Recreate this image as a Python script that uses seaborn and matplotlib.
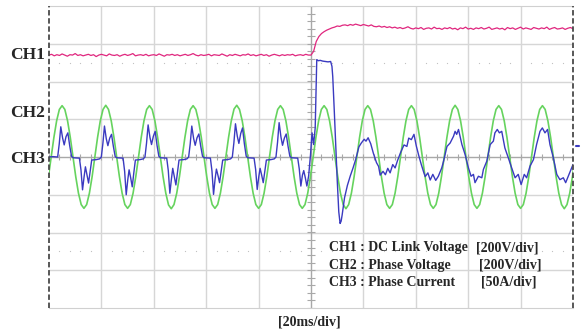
import numpy as np
import matplotlib
matplotlib.use("Agg")
import matplotlib.pyplot as plt
import seaborn as sns

# scope screen: 10 div x 20 ms/div, 8 div vertical; traces in divisions
ch1_dt = 1.0  # ms per sample
ch1_v = [
    2.70, 2.72, 2.68, 2.71, 2.69, 2.73, 2.70, 2.67, 2.71, 2.70,
    2.74, 2.69, 2.71, 2.68, 2.70, 2.72, 2.69, 2.71, 2.66, 2.70,
    2.72, 2.70, 2.68, 2.73, 2.70, 2.69, 2.71, 2.67, 2.70, 2.72,
    2.69, 2.71, 2.74, 2.68, 2.70, 2.71, 2.69, 2.72, 2.68, 2.70,
    2.71, 2.69, 2.73, 2.70, 2.67, 2.71, 2.70, 2.72, 2.69, 2.71,
    2.68, 2.70, 2.72, 2.69, 2.71, 2.74, 2.70, 2.68, 2.71, 2.69,
    2.70, 2.72, 2.68, 2.71, 2.70, 2.69, 2.73, 2.70, 2.67, 2.71,
    2.69, 2.72, 2.70, 2.68, 2.71, 2.70, 2.73, 2.69, 2.71, 2.68,
    2.70, 2.72, 2.69, 2.71, 2.67, 2.70, 2.72, 2.70, 2.68, 2.71,
    2.69, 2.71, 2.70, 2.72, 2.68, 2.70, 2.71, 2.69, 2.72, 2.70,
    2.70,
    2.80, 3.06, 3.19, 3.27, 3.32, 3.36, 3.39, 3.42, 3.44, 3.47,
    3.46, 3.49, 3.50, 3.48, 3.51, 3.49, 3.52, 3.50, 3.48, 3.51,
    3.49, 3.47, 3.50, 3.46, 3.45, 3.47, 3.44, 3.46, 3.43, 3.45,
    3.42, 3.44, 3.41, 3.43, 3.40, 3.42, 3.45, 3.41, 3.39, 3.42,
    3.40, 3.43, 3.38, 3.41, 3.42, 3.39, 3.44, 3.40, 3.41, 3.38,
    3.42, 3.40, 3.43, 3.39, 3.41, 3.37, 3.42, 3.40, 3.44, 3.39,
    3.41, 3.38, 3.42, 3.40, 3.43, 3.39, 3.41, 3.44, 3.38, 3.40,
    3.42, 3.39, 3.41, 3.37, 3.43, 3.40, 3.42, 3.38, 3.41, 3.44,
    3.39, 3.42, 3.40, 3.38, 3.43, 3.41, 3.39, 3.42, 3.40, 3.44,
    3.38, 3.41, 3.43, 3.39, 3.40, 3.42, 3.38, 3.41, 3.43, 3.40,
]

ch2_t0 = -0.21
ch2_dt = 1000 / 60 / 16  # 16 samples per 60 Hz cycle
ch2_v = [
    -0.52, 0.00, 0.52, 0.96, 1.26, 1.36, 1.26, 0.96, 0.52, 0.00, -0.52, -0.96, -1.26, -1.36, -1.26, -0.96,
    -0.52, 0.00, 0.52, 0.96, 1.26, 1.37, 1.26, 0.96, 0.52, 0.00, -0.52, -0.96, -1.26, -1.36, -1.26, -0.96,
    -0.52, 0.00, 0.52, 0.96, 1.26, 1.36, 1.26, 0.96, 0.52, 0.00, -0.52, -0.96, -1.27, -1.37, -1.26, -0.96,
    -0.52, 0.00, 0.52, 0.96, 1.26, 1.36, 1.26, 0.96, 0.52, 0.00, -0.52, -0.96, -1.26, -1.36, -1.26, -0.96,
    -0.52, 0.00, 0.52, 0.96, 1.27, 1.37, 1.26, 0.96, 0.52, 0.00, -0.52, -0.96, -1.26, -1.36, -1.26, -0.96,
    -0.52, 0.00, 0.52, 0.96, 1.26, 1.36, 1.26, 0.96, 0.52, 0.00, -0.52, -0.96, -1.26, -1.36, -1.26, -0.96,
    -0.52, 0.00, 0.52, 0.96, 1.26, 1.36, 1.26, 0.96, 0.52, 0.00, -0.52, -0.96, -1.26, -1.37, -1.26, -0.96,
    -0.52, 0.00, 0.52, 0.96, 1.26, 1.36, 1.26, 0.96, 0.52, 0.00, -0.52, -0.96, -1.26, -1.36, -1.26, -0.96,
    -0.52, 0.00, 0.52, 0.96, 1.26, 1.36, 1.26, 0.96, 0.52, 0.00, -0.52, -0.96, -1.26, -1.36, -1.26, -0.96,
    -0.52, 0.00, 0.52, 0.96, 1.26, 1.37, 1.26, 0.96, 0.52, 0.00, -0.52, -0.96, -1.26, -1.36, -1.26, -0.96,
    -0.52, 0.00, 0.52, 0.96, 1.26, 1.36, 1.26, 0.96, 0.52, 0.00, -0.52, -0.96, -1.26, -1.36, -1.26, -0.96,
    -0.52, 0.00, 0.52, 0.96, 1.26, 1.36, 1.26, 0.96, 0.52, 0.00, -0.52, -0.96, -1.26, -1.37, -1.26, -0.96,
    -0.52, 0.00,
]

ch3_t = [
    0.00, 1.50,
    3.30, 3.90, 4.50, 5.20, 5.80, 6.50, 7.20, 7.90, 8.60, 9.20, 11.60, 12.20, 12.80, 13.40, 13.90, 14.50, 15.10, 15.70, 16.30, 18.00, 19.30,
    19.97, 20.57, 21.17, 21.87, 22.47, 23.17, 23.87, 24.57, 25.27, 25.87, 28.27, 28.87, 29.47, 30.07, 30.57, 31.17, 31.77, 32.37, 32.97, 34.67, 35.97,
    36.63, 37.23, 37.83, 38.53, 39.13, 39.83, 40.53, 41.23, 41.93, 42.53, 44.93, 45.53, 46.13, 46.73, 47.23, 47.83, 48.43, 49.03, 49.63, 51.33, 52.63,
    53.30, 53.90, 54.50, 55.20, 55.80, 56.50, 57.20, 57.90, 58.60, 59.20, 61.60, 62.20, 62.80, 63.40, 63.90, 64.50, 65.10, 65.70, 66.30, 68.00, 69.30,
    69.97, 70.57, 71.17, 71.87, 72.47, 73.17, 73.87, 74.57, 75.27, 75.87, 78.27, 78.87, 79.47, 80.07, 80.57, 81.17, 81.77, 82.37, 82.97, 84.67, 85.97,
    86.63, 87.23, 87.83, 88.53, 89.13, 89.83, 90.53, 91.23, 91.93, 92.53, 94.93, 95.53, 96.13, 96.73, 97.23, 97.83, 98.43, 99.10, 99.80,
    100.4, 101.0, 101.6, 102.2, 102.8, 103.5, 104.5, 105.5, 106.5, 107.5, 108.0, 108.3, 108.9, 109.4, 110.0, 110.6, 111.1, 111.5, 111.9,
    112.8, 113.9, 115.0, 116.0, 117.0, 118.3, 119.2, 120.3, 121.0, 121.8, 122.8, 123.8, 125.0, 125.8, 126.4, 127.5, 128.4, 129.3, 130.2,
    131.2, 132.1, 133.0, 134.2, 135.5, 136.6, 137.3, 138.3, 139.3, 140.2, 141.2, 142.1, 143.0, 143.6, 144.6, 145.5, 146.5, 147.6, 148.6,
    149.9, 150.6, 151.9, 153.1, 154.4, 155.0, 155.6, 156.3, 157.6, 158.8, 160.1, 161.1, 162.0, 162.6, 163.9, 165.2, 165.8, 167.1, 168.4,
    169.6, 170.2, 171.1, 171.9, 172.8, 174.0, 175.3, 176.6, 177.9, 179.1, 180.2, 181.4, 182.3, 183.6, 184.9, 186.1, 187.4, 188.3, 189.3,
    190.3, 191.2, 192.5, 193.8, 195.0, 196.3, 197.2, 198.2, 199.5, 200.0,
]
ch3_v = [
    0.00, 0.01,
    0.00, 0.34, 0.80, 0.50, 0.32, 0.54, 0.64, 0.30, 0.02, -0.02, -0.03, -0.34, -0.87, -0.52, -0.26, -0.48, -0.69, -0.38, -0.08, -0.07, -0.05,
    0.00, 0.36, 0.82, 0.48, 0.30, 0.50, 0.60, 0.28, 0.01, -0.02, -0.03, -0.38, -1.00, -0.60, -0.34, -0.55, -0.79, -0.42, -0.08, -0.07, -0.05,
    0.00, 0.37, 0.85, 0.52, 0.33, 0.55, 0.68, 0.31, 0.02, -0.02, -0.03, -0.36, -0.96, -0.58, -0.30, -0.52, -0.74, -0.40, -0.08, -0.07, -0.05,
    0.00, 0.35, 0.82, 0.49, 0.31, 0.51, 0.61, 0.29, 0.02, -0.02, -0.03, -0.37, -0.99, -0.58, -0.32, -0.49, -0.68, -0.37, -0.08, -0.07, -0.05,
    0.00, 0.38, 0.88, 0.55, 0.36, 0.62, 0.77, 0.35, 0.02, -0.02, -0.03, -0.33, -0.86, -0.52, -0.30, -0.48, -0.68, -0.37, -0.08, -0.07, -0.05,
    0.00, 0.39, 0.91, 0.53, 0.31, 0.50, 0.61, 0.29, 0.02, -0.02, -0.03, -0.32, -0.77, -0.48, -0.36, -0.55, -0.77, -0.50, 0.05,
    0.64, 0.33, 0.77, 2.58, 2.55, 2.56, 2.54, 2.53, 2.52, 2.53, 2.40, 2.13, 1.20, 0.35, -0.60, -1.45, -1.76, -1.70, -1.53,
    -1.08, -0.75, -0.50, -0.30, -0.08, 0.27, 0.37, 0.47, 0.42, 0.51, 0.35, 0.10, -0.15, -0.25, -0.48, -0.38, -0.47, -0.30, -0.42,
    -0.20, -0.29, -0.10, 0.12, 0.32, 0.28, 0.50, 0.46, 0.60, 0.29, 0.02, -0.20, -0.40, -0.52, -0.42, -0.61, -0.46, -0.62, -0.51,
    -0.29, -0.11, 0.28, 0.37, 0.55, 0.68, 0.60, 0.73, 0.33, 0.07, -0.29, -0.51, -0.46, -0.68, -0.51, -0.55, -0.33, -0.11, 0.33,
    0.42, 0.64, 0.73, 0.64, 0.68, 0.24, -0.02, -0.29, -0.55, -0.46, -0.73, -0.46, -0.55, -0.24, -0.07, 0.33, 0.68, 0.77, 0.64,
    0.73, 0.33, -0.02, -0.46, -0.60, -0.55, -0.68, -0.51, -0.29, -0.20,
]

channel_labels = ["CH1", "CH2", "CH3"]
legend_names = ["CH1 : DC Link Voltage", "CH2 : Phase Voltage", "CH3 : Phase Current"]
legend_scales = ["[200V/div]", "[200V/div]", "[50A/div]"]

sns.set_style("white")
plt.rcParams["font.family"] = ["Liberation Serif", "DejaVu Serif"]

W, H = 581, 332
fig = plt.figure(figsize=(W / 100, H / 100), dpi=100)
ax = fig.add_axes([49 / W, 1 - 308 / H, 524 / W, 302 / H])
ax.set_xlim(0, 200)
ax.set_ylim(-4, 4)
ax.set_xticks([])
ax.set_yticks([])
for s in ["left", "right"]:
    ax.spines[s].set_visible(False)
for s in ["top", "bottom"]:
    ax.spines[s].set_color("#d0d0d0")

# graticule
grid_c = "#d6d6d6"
for x in range(20, 200, 20):
    if x != 100:
        ax.axvline(x, color=grid_c, lw=1.0, zorder=0)
for y in [-3, -2, -1, 1, 2, 3]:
    ax.axhline(y, color=grid_c, lw=1.0, zorder=0)
ax.axhline(0, color="#a8a8a8", lw=1.0, zorder=0)
ax.axvline(100, color="#a8a8a8", lw=1.0, zorder=0)
minor_x = np.arange(0, 200.1, 4)
ax.vlines(minor_x, -0.07, 0.07, color="#a8a8a8", lw=0.8, zorder=0)
minor_y = np.arange(-4, 4.01, 0.2)
ax.hlines(minor_y, 98.6, 101.4, color="#a8a8a8", lw=0.8, zorder=0)
dots = [x for x in np.arange(4, 200, 4) if x % 20 != 0]
for yy in [2.5, -2.5]:
    ax.plot(dots, [yy] * len(dots), ls="none", marker="s", ms=0.8, mew=0, color="#c2c2c2", zorder=0)
for xx in [0, 200]:
    ax.axvline(xx, color="#4a4a4a", lw=1.3, ls=(0, (3, 1.5)), clip_on=False, zorder=5)

t1 = np.arange(len(ch1_v)) * ch1_dt
t2 = ch2_t0 + np.arange(len(ch2_v)) * ch2_dt

sns.lineplot(x=t2, y=ch2_v, ax=ax, color="#66d35e", lw=1.2, estimator=None, sort=False)
sns.lineplot(x=ch3_t, y=ch3_v, ax=ax, color="#3a3ac0", lw=1.0, estimator=None, sort=False)
sns.lineplot(x=t1, y=ch1_v, ax=ax, color="#e0267e", lw=0.9, estimator=None, sort=False)

# small channel marker on the right edge
ax.plot([201.2, 202.2], [0.3, 0.3], color="#3a3ac0", lw=1.5, clip_on=False)

label_y = [55, 113, 159]
for lab, yp in zip(channel_labels, label_y):
    fig.text(45 / W, 1 - yp / H, lab, ha="right", va="center", fontsize=12.5, fontweight="bold")

for i, (nm, sc) in enumerate(zip(legend_names, legend_scales)):
    yp = 248 + 17 * i
    fig.text(329 / W, 1 - yp / H, nm, ha="left", va="center", fontsize=10, fontweight="bold")
    fig.text([476, 479, 481][i] / W, 1 - yp / H, sc, ha="left", va="center", fontsize=10, fontweight="bold")

fig.text(309 / W, 1 - 322 / H, "[20ms/div]", ha="center", va="center", fontsize=10, fontweight="bold")

fig.savefig("out.png", dpi=100)
